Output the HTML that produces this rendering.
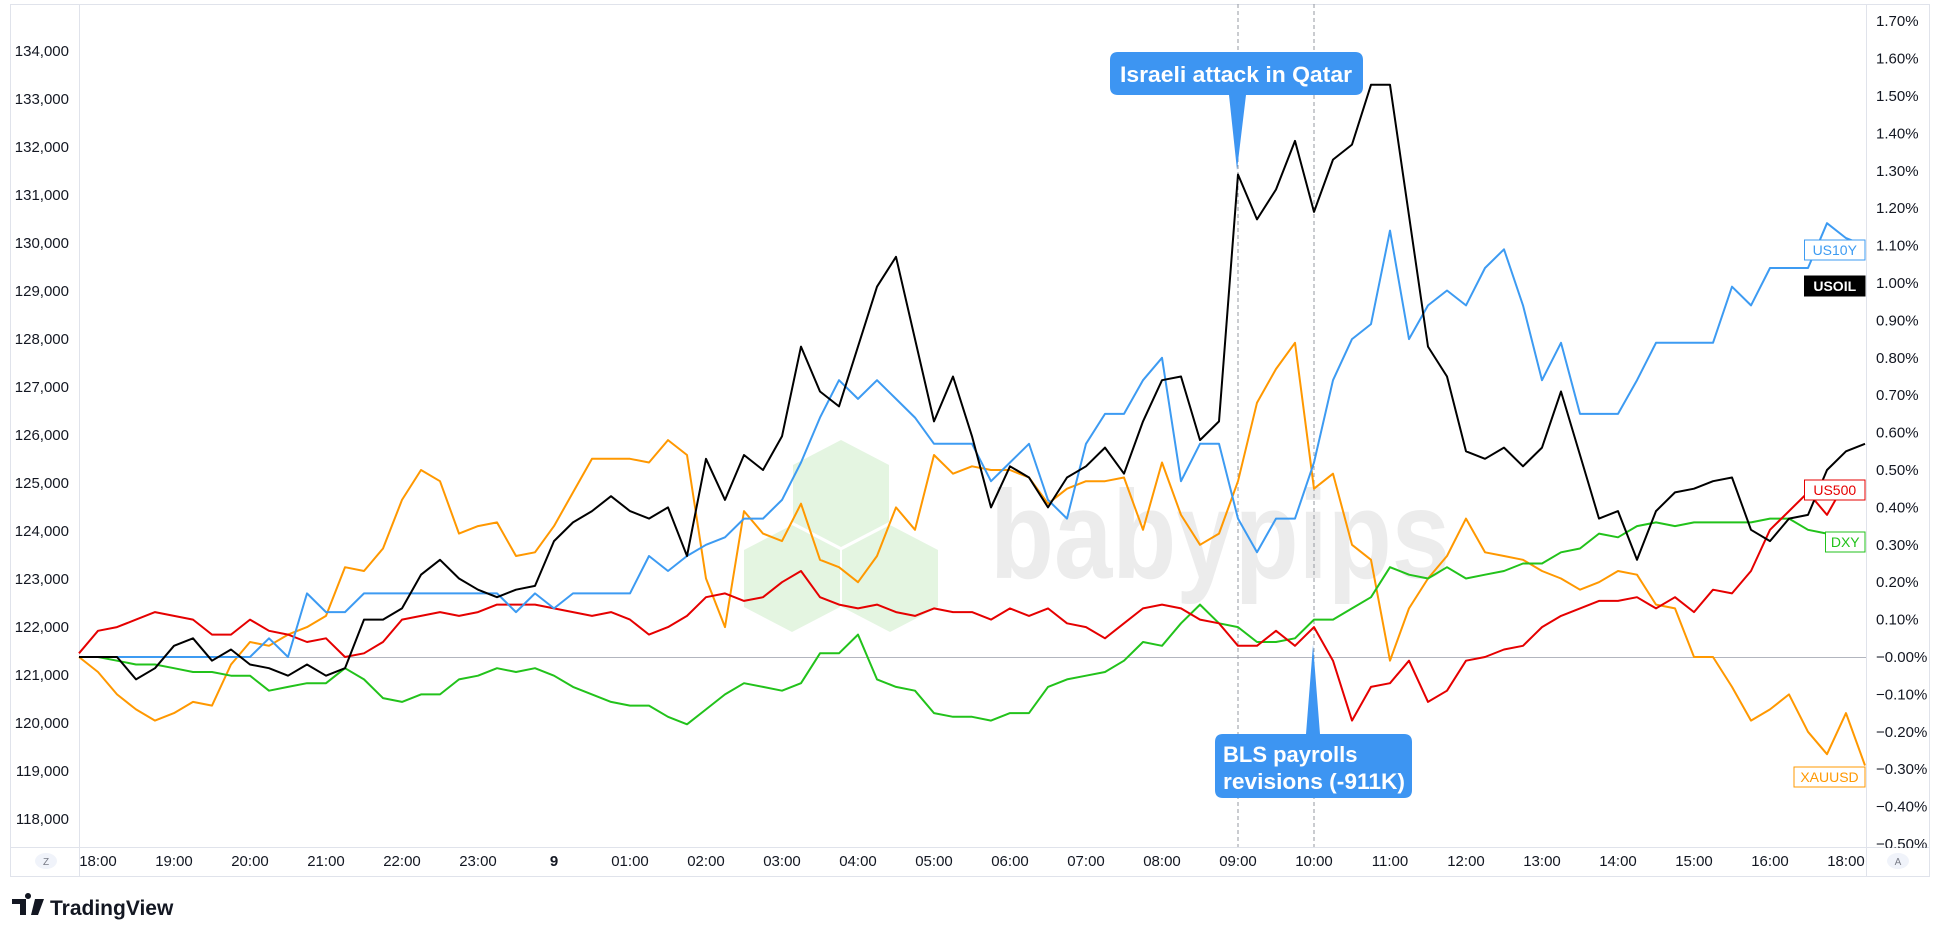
<!DOCTYPE html>
<html><head><meta charset="utf-8"><style>
html,body{margin:0;padding:0;background:#fff;}
svg{display:block;font-family:"Liberation Sans",sans-serif;}
</style></head><body>
<svg id="chart" width="1940" height="937" viewBox="0 0 1940 937" xmlns="http://www.w3.org/2000/svg">
<rect x="0" y="0" width="1940" height="937" fill="#fff"/>
<rect x="10.5" y="4.5" width="1919" height="872" fill="none" stroke="#e0e3eb"/>
<g id="wm">
<polygon points="841,440 889,465 889,522 841,547 793,522 793,465" fill="#e4f5e1"/>
<polygon points="792,525 840,550 840,607 792,632 744,607 744,550" fill="#e4f5e1"/>
<polygon points="890,525 938,550 938,607 890,632 842,607 842,550" fill="#e4f5e1"/>
<text x="990" y="578" font-size="125" font-weight="bold" fill="#ececec" textLength="460" lengthAdjust="spacingAndGlyphs">babypips</text>
</g>
<g id="axes"></g>
<g id="series"></g>
<g id="annot"></g>
</svg>
<script>
const usoil=[0,0,0,-0.06,-0.03,0.03,0.05,-0.01,0.02,-0.02,-0.03,-0.05,-0.02,-0.05,-0.03,0.10,0.10,0.13,0.22,0.26,0.21,0.18,0.16,0.18,0.19,
0.31,0.36,0.39,0.43,0.39,0.37,0.40,0.27,0.53,0.42,0.54,0.50,0.59,0.83,0.71,0.67,0.83,0.99,1.07,0.85,0.63,0.75,0.59,
0.40,0.51,0.48,0.40,0.48,0.51,0.56,0.49,0.63,0.74,0.75,0.58,0.63,1.29,1.17,1.25,1.38,1.19,1.33,1.37,1.53,1.53,
1.18,0.83,0.75,0.55,0.53,0.56,0.51,0.56,0.71,0.54,0.37,0.39,0.26,0.39,0.44,0.45,0.47,0.48,0.34,0.31,0.37,0.38,0.50,0.55,0.57];
const us10y=[0,0,0,0,0,0,0,0,0,0,0.05,0,0.17,0.12,0.12,0.17,0.17,0.17,0.17,0.17,0.17,0.17,0.17,0.12,0.17,
0.13,0.17,0.17,0.17,0.17,0.27,0.23,0.27,0.30,0.32,0.37,0.37,0.42,0.52,0.64,0.74,0.69,0.74,0.69,0.64,0.57,0.57,0.57,
0.47,0.52,0.57,0.42,0.37,0.57,0.65,0.65,0.74,0.80,0.47,0.57,0.57,0.37,0.28,0.37,0.37,0.52,0.74,0.85,0.89,1.14,0.85,
0.94,0.98,0.94,1.04,1.09,0.94,0.74,0.84,0.65,0.65,0.65,0.74,0.84,0.84,0.84,0.84,0.99,0.94,1.04,1.04,1.04,1.16,1.12,1.10];
const xauusd=[0,-0.04,-0.10,-0.14,-0.17,-0.15,-0.12,-0.13,-0.02,0.04,0.03,0.06,0.08,0.11,0.24,0.23,0.29,0.42,0.50,0.47,0.33,0.35,0.36,0.27,0.28,
0.35,0.44,0.53,0.53,0.53,0.52,0.58,0.54,0.21,0.08,0.39,0.33,0.31,0.41,0.26,0.24,0.20,0.27,0.40,0.34,0.54,0.49,0.51,
0.50,0.50,0.48,0.41,0.45,0.47,0.47,0.48,0.34,0.52,0.38,0.30,0.33,0.47,0.68,0.77,0.84,0.45,0.49,0.30,0.26,-0.01,0.13,
0.21,0.27,0.37,0.28,0.27,0.26,0.23,0.21,0.18,0.20,0.23,0.22,0.14,0.13,0,0,-0.08,-0.17,-0.14,-0.10,-0.20,-0.26,-0.15,-0.29];
const us500=[0.01,0.07,0.08,0.10,0.12,0.11,0.10,0.06,0.06,0.10,0.07,0.06,0.04,0.05,0,0.01,0.04,0.10,0.11,0.12,0.11,0.12,0.14,0.14,0.14,
0.13,0.12,0.11,0.12,0.10,0.06,0.08,0.11,0.16,0.17,0.15,0.16,0.20,0.23,0.16,0.14,0.13,0.14,0.12,0.11,0.13,0.12,0.12,
0.10,0.13,0.11,0.13,0.09,0.08,0.05,0.09,0.13,0.14,0.13,0.10,0.09,0.03,0.03,0.07,0.03,0.08,-0.01,-0.17,-0.08,-0.07,-0.01,
-0.12,-0.09,-0.01,0,0.02,0.03,0.08,0.11,0.13,0.15,0.15,0.16,0.13,0.16,0.12,0.18,0.17,0.23,0.34,0.39,0.44,0.38,0.47,0.47];
const dxy=[0,0,-0.01,-0.02,-0.02,-0.03,-0.04,-0.04,-0.05,-0.05,-0.09,-0.08,-0.07,-0.07,-0.03,-0.06,-0.11,-0.12,-0.10,-0.10,-0.06,-0.05,-0.03,-0.04,-0.03,
-0.05,-0.08,-0.10,-0.12,-0.13,-0.13,-0.16,-0.18,-0.14,-0.10,-0.07,-0.08,-0.09,-0.07,0.01,0.01,0.06,-0.06,-0.08,-0.09,-0.15,-0.16,-0.16,
-0.17,-0.15,-0.15,-0.08,-0.06,-0.05,-0.04,-0.01,0.04,0.03,0.09,0.14,0.09,0.08,0.04,0.04,0.05,0.10,0.10,0.13,0.16,0.24,0.22,
0.21,0.24,0.21,0.22,0.23,0.25,0.25,0.28,0.29,0.33,0.32,0.35,0.36,0.35,0.36,0.36,0.36,0.36,0.37,0.37,0.34,0.33,0.30,0.30];
const leftTicks=[134000,133000,132000,131000,130000,129000,128000,127000,126000,125000,124000,123000,122000,121000,120000,119000,118000];
const rightTicks=[1.7,1.6,1.5,1.4,1.3,1.2,1.1,1.0,0.9,0.8,0.7,0.6,0.5,0.4,0.3,0.2,0.1,0,-0.1,-0.2,-0.3,-0.4,-0.5];
const timeLabels=["18:00","19:00","20:00","21:00","22:00","23:00","9","01:00","02:00","03:00","04:00","05:00","06:00","07:00","08:00","09:00","10:00","11:00","12:00","13:00","14:00","15:00","16:00","18:00"];
const eventIdx=[61,65];

const NS="http://www.w3.org/2000/svg";
const X0=79,STEP=19,ZERO=657,PPU=374;
function xs(i){return X0+STEP*i;}
function yp(p){return ZERO-p*PPU;}
function yl(v){return 51+(134000-v)*0.048;}
function mk(tag,attrs,parent){const e=document.createElementNS(NS,tag);for(const k in attrs)e.setAttribute(k,attrs[k]);parent.appendChild(e);return e;}
const axes=document.getElementById('axes'),ser=document.getElementById('series'),ann=document.getElementById('annot');

let l=mk('line',{x1:79.5,y1:4,x2:79.5,y2:876,stroke:'#e0e3eb'},axes);


l=mk('line',{x1:1866.5,y1:4,x2:1866.5,y2:876,stroke:'#e0e3eb'},axes);


l=mk('line',{x1:10,y1:847.5,x2:1930,y2:847.5,stroke:'#e0e3eb'},axes);


l=mk('line',{x1:79,y1:ZERO+0.5,x2:1866,y2:ZERO+0.5,stroke:'#b2b5be','stroke-width':1},axes);



leftTicks.forEach(v=>{
  const t=mk('text',{x:69,y:yl(v)+5,'font-size':15,'text-anchor':'end',fill:'#131722'},axes);
  t.textContent=v.toLocaleString('en-US');
  
  
});
rightTicks.forEach(p=>{
  const y=yp(p);
  if(y>846)return;
  const t=mk('text',{x:1876,y:y+5,'font-size':15,fill:'#131722'},axes);
  t.textContent=(p<=0?'\u2212':'')+Math.abs(p).toFixed(2)+'%';
  
  
});
mk('rect',{x:1867,y:848,width:62,height:28,fill:'#fff'},axes);
timeLabels.forEach((s,k)=>{
  const t=mk('text',{x:xs(1+4*k),y:866,'font-size':15,'text-anchor':'middle',fill:'#131722','font-weight':s==='9'?'bold':'normal'},axes);
  t.textContent=s;
  
  
});
[[46,'Z','scale-z-button'],[1898,'A','auto-scale-button']].forEach(a=>{
  const c=mk('ellipse',{cx:a[0],cy:861,rx:11,ry:8,fill:'#f0f3fa'},axes);
  
  
  const t=mk('text',{x:a[0],y:865,'font-size':10,'text-anchor':'middle',fill:'#787b86'},axes);
  t.textContent=a[1];
});
eventIdx.forEach(i=>{
  const e=mk('line',{x1:xs(i),y1:4,x2:xs(i),y2:847,stroke:'#9598a1','stroke-dasharray':'4,3','stroke-width':1},axes);
  
  
});
const series=[['xauusd-line',xauusd,'#ff9800'],['dxy-line',dxy,'#22c21b'],['us500-line',us500,'#e50000'],['us10y-line',us10y,'#3d9bf2'],['usoil-line',usoil,'#000000']];
series.forEach(s=>{
  const d=s[1].map((v,i)=>(i?'L':'M')+xs(i).toFixed(1)+','+yp(v).toFixed(1)).join(' ');
  const p=mk('path',{d:d,fill:'none',stroke:s[2],'stroke-width':2,'stroke-linejoin':'round'},ser);
  
  
});
const labs=[['US10Y',250,'#3d9bf2','#fff','#3d9bf2'],['USOIL',286,'#000','#000','#fff'],['US500',490,'#e50000','#fff','#e50000'],['DXY',542,'#22c21b','#fff','#22c21b'],['XAUUSD',777,'#ff9800','#fff','#ff9800']];
labs.forEach(L=>{
  const w=L[0].length*10.5+8;
  const r=mk('rect',{x:1865-w,y:L[1]-10,width:w,height:20,fill:L[3],stroke:L[2],'stroke-width':1},ann);
  
  
  const t=mk('text',{x:1865-w/2,y:L[1]+5,'font-size':14,'text-anchor':'middle',fill:L[4],'font-weight':L[0]==='USOIL'?'bold':'normal'},ann);
  t.textContent=L[0];
});
let c=mk('path',{d:'M1118,52 H1355 Q1363,52 1363,60 V87 Q1363,95 1355,95 H1246 L1237,170 L1229,95 H1118 Q1110,95 1110,87 V60 Q1110,52 1118,52 Z',fill:'#3d95f2'},ann);


let t=mk('text',{x:1236,y:82,'font-size':22,'font-weight':'bold','text-anchor':'middle',fill:'#fff',textLength:232,lengthAdjust:'spacingAndGlyphs'},ann);
t.textContent='Israeli attack in Qatar';
c=mk('path',{d:'M1223,734 H1306 L1313,645 L1320,734 H1404 Q1412,734 1412,742 V790 Q1412,798 1404,798 H1223 Q1215,798 1215,790 V742 Q1215,734 1223,734 Z',fill:'#3d95f2'},ann);


t=mk('text',{x:1223,y:762,'font-size':22,'font-weight':'bold',fill:'#fff'},ann);
t.textContent='BLS payrolls';
t=mk('text',{x:1223,y:789,'font-size':22,'font-weight':'bold',fill:'#fff',textLength:182,lengthAdjust:'spacingAndGlyphs'},ann);
t.textContent='revisions (-911K)';
const g=mk('g',{},ann);


mk('path',{d:'M12,899 H26 V915 H20 V904 H12 Z M28,899 A3,3 0 1 1 28.01,899 Z',fill:'#131722'},g);
mk('path',{d:'M35,899 H44 L38,915 H31 Z',fill:'#131722'},g);
t=mk('text',{x:50,y:915,'font-size':21,'font-weight':'bold',fill:'#131722'},g);
t.textContent='TradingView';
</script>
</body></html>
